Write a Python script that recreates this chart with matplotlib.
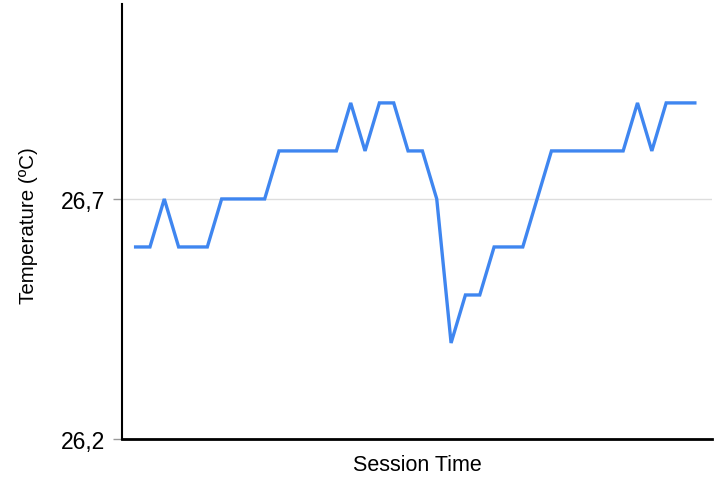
import matplotlib
matplotlib.use("Agg")
from matplotlib import pyplot as plt
from matplotlib.ticker import FuncFormatter

# temperature readings over the session (one per step)
temps = [26.6, 26.6, 26.7, 26.6, 26.6, 26.6, 26.7, 26.7, 26.7, 26.7,
         26.8, 26.8, 26.8, 26.8, 26.8, 26.9, 26.8, 26.9, 26.9, 26.8,
         26.8, 26.7, 26.4, 26.5, 26.5, 26.6, 26.6, 26.6, 26.7, 26.8,
         26.8, 26.8, 26.8, 26.8, 26.8, 26.9, 26.8, 26.9, 26.9, 26.9]
steps = list(range(len(temps)))
yticks = [26.2, 26.7]

plt.rcParams['font.family'] = ['Liberation Sans', 'DejaVu Sans']

fig = plt.figure(figsize=(7.24, 4.81), dpi=100)
ax = fig.add_axes([0.1685, 0.0852, 0.815, 0.9044])

ax.plot(steps, temps, color="#3f86f0", linewidth=2.4, solid_joinstyle="miter")

ax.set_xlim(-0.95, 40.2)
ax.set_ylim(26.2, 27.106)
ax.set_yticks(yticks)
ax.yaxis.set_major_formatter(FuncFormatter(lambda v, p: f"{v:.1f}".replace(".", ",")))
ax.set_xticks([])
ax.grid(axis="y", color="#dddddd", linewidth=1)
ax.set_axisbelow(True)

for s in ["top", "right"]:
    ax.spines[s].set_visible(False)
ax.spines["left"].set_linewidth(1.5)
ax.spines["bottom"].set_linewidth(2)
ax.tick_params(axis="y", labelsize=16.5, length=6.5, width=1, color="#999999", pad=5.5)

ax.set_xlabel("Session Time", fontsize=15.5)
ax.set_ylabel("Temperature (ºC)", fontsize=14.8)
ax.xaxis.set_label_coords(0.5, -0.034)
ax.yaxis.set_label_coords(-0.143, 0.493)

fig.savefig("out.png", dpi=100)
